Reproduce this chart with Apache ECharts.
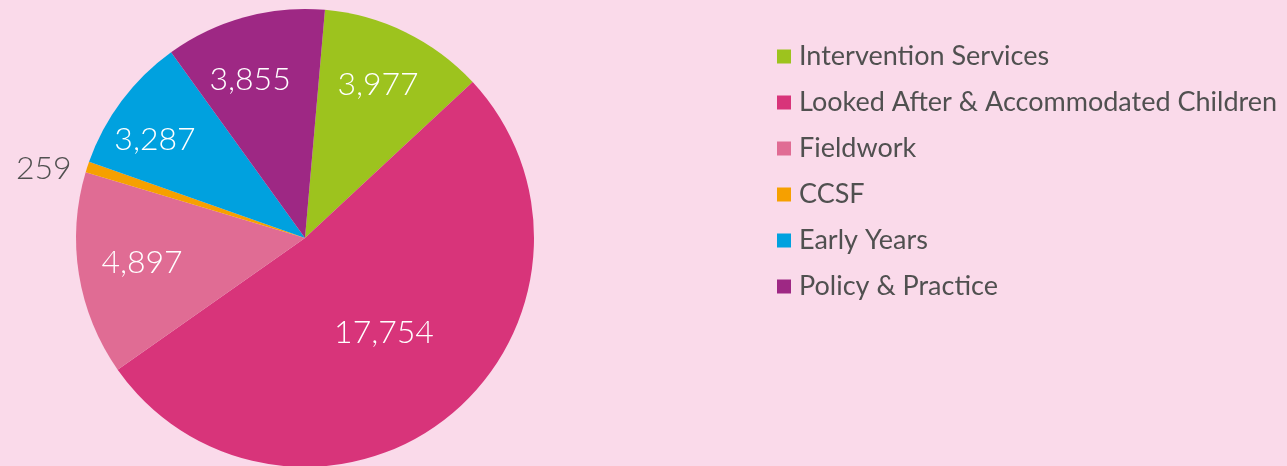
<!DOCTYPE html>
<html><head><meta charset="utf-8">
<style>html,body{margin:0;padding:0;background:#fadaea;}#c{width:1287px;height:466px;}</style>
<script src="https://cdn.jsdelivr.net/npm/echarts@6/dist/echarts.min.js"></script>
</head><body><div id="c"></div>
<script>
const categories = ['Intervention Services','Looked After & Accommodated Children','Fieldwork','CCSF','Early Years','Policy & Practice'];
const values = [3977, 17754, 4897, 259, 3287, 3855];
const colors = ['#9dc31e','#d8347a','#e06c94','#f6a000','#00a1df','#9e2884'];
const labelRadiusFactor = [0.74, 0.54, 0.72, 1.18, 0.784, 0.733];
const labelAngleShift = [-0.5, -0.7, 0.5, -3.2, -3.5, -3.7];
const CX = 305, CY = 238, R = 229;

const chart = echarts.init(document.getElementById('c'));
chart.setOption({
  backgroundColor: '#fadaea',
  animation: false,
  legend: {
    orient: 'vertical', left: 772, top: 38,
    itemWidth: 14, itemHeight: 14, itemGap: 19,
    icon: 'rect',
    textStyle: { color: '#505050', fontSize: 27, lineHeight: 27, fontFamily: 'Lato', padding: [0,0,0,3] },
    data: categories
  },
  series: [{
    type: 'pie',
    center: [CX, CY], radius: [0, R],
    startAngle: 85, clockwise: true,
    label: { show: true, position: 'inside', color: '#fff', fontSize: 32, fontFamily: 'Lato', fontWeight: 300,
      formatter: p => p.value.toLocaleString('en-US') },
    labelLine: { show: false },
    labelLayout: function (p) {
      const r = p.labelRect;
      const x = r.x + r.width/2, y = r.y + r.height/2;
      const dx = x - CX, dy = y - CY;
      const theta = Math.atan2(dx, -dy) + labelAngleShift[p.dataIndex] * Math.PI / 180;
      const t = labelRadiusFactor[p.dataIndex] * R;
      const nx = CX + t * Math.sin(theta), ny = CY - t * Math.cos(theta);
      return { dx: nx - x, dy: ny - y };
    },
    data: categories.map((n, i) => ({
      name: n, value: values[i], itemStyle: { color: colors[i] },
      label: i === 3 ? { position: 'inside', color: '#505050' } : undefined
    }))
  }]
});
</script></body></html>
